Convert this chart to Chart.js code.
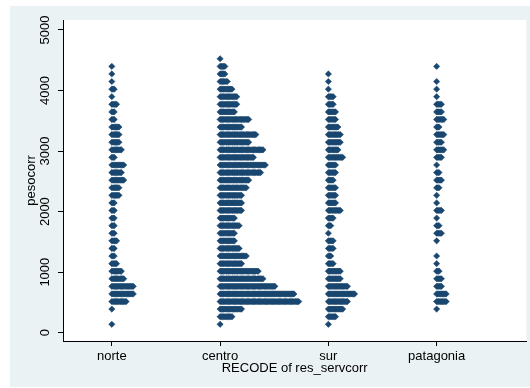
<!DOCTYPE html>
<html>
<head>
<meta charset="utf-8">
<title>pesocorr by RECODE of res_servcorr</title>
<script src="https://cdn.jsdelivr.net/npm/chart.js@4.4.1/dist/chart.umd.min.js"></script>
<style>
  html, body { margin: 0; padding: 0; background: #ffffff; }
  #wrap { width: 530px; height: 388px; }
</style>
</head>
<body>
<div id="wrap"><canvas id="dotplot" width="530" height="388"></canvas></div>
<script>
// Categories on the x axis
const categories = ['norte', 'centro', 'sur', 'patagonia'];

// y value of each bin (bottom to top)
const binMid = [139, 264, 390, 515, 640, 766, 891, 1016, 1141, 1267, 1392, 1517,
  1643, 1768, 1893, 2019, 2144, 2269, 2394, 2520, 2645, 2770, 2896, 3021,
  3146, 3272, 3397, 3522, 3647, 3773, 3898, 4023, 4149, 4274, 4399, 4525];

// number of dots in each bin, per category
const norteCounts = [1, 0, 1, 13, 19, 19, 11, 9, 5, 3, 3, 5, 3, 3, 3, 3, 3, 7,
  7, 11, 9, 11, 3, 9, 7, 7, 7, 3, 3, 5, 1, 3, 1, 1, 1, 0];
const centroCounts = [1, 11, 19, 67, 63, 47, 37, 33, 19, 23, 17, 13, 13, 17, 13, 19, 19, 19,
  23, 25, 35, 39, 29, 37, 25, 31, 19, 25, 13, 15, 15, 11, 7, 5, 5, 1];
const surCounts = [1, 7, 13, 17, 23, 17, 11, 11, 5, 3, 5, 5, 1, 3, 5, 11, 7, 7,
  7, 5, 7, 7, 13, 9, 11, 11, 9, 7, 7, 5, 5, 1, 1, 1, 0, 0];
const patagoniaCounts = [0, 0, 1, 9, 9, 5, 5, 3, 1, 1, 0, 1, 5, 3, 1, 5, 1, 1,
  3, 5, 3, 1, 5, 7, 5, 7, 3, 7, 5, 5, 1, 1, 1, 0, 1, 0];

// axis ticks
const yTicks = [0, 1000, 2000, 3000, 4000, 5000];
const xTicks = [1, 2, 3, 4];

const navy = '#1a476f';
const dotStep = 0.011; // horizontal offset between stacked dots, in x units

function buildPoints(counts, pos) {
  const pts = [];
  counts.forEach((n, i) => {
    for (let k = 0; k < n; k++) {
      pts.push({ x: pos + k * dotStep, y: binMid[i] });
    }
  });
  return pts;
}

const allCounts = [norteCounts, centroCounts, surCounts, patagoniaCounts];
const datasets = allCounts.map((counts, idx) => ({
  label: categories[idx],
  data: buildPoints(counts, idx + 1),
  pointStyle: 'rectRot',
  pointRadius: 3.1,
  pointHoverRadius: 3.1,
  backgroundColor: navy,
  borderColor: navy,
  borderWidth: 0.6,
  showLine: false
}));

// grey graph region with a white plot region
const backdrop = {
  id: 'backdrop',
  beforeDraw(chart) {
    const { ctx, chartArea } = chart;
    ctx.save();
    ctx.fillStyle = '#ffffff';
    ctx.fillRect(0, 0, chart.width, chart.height);
    ctx.fillStyle = '#eaf2f3';
    ctx.fillRect(10, 6, chart.width - 10, chart.height - 7);
    ctx.fillStyle = '#ffffff';
    ctx.fillRect(chartArea.left, chartArea.top,
      chartArea.right - chartArea.left, chartArea.bottom - chartArea.top);
    ctx.restore();
  }
};

const font = { family: '"Liberation Sans", Arial, sans-serif', size: 13 };

new Chart(document.getElementById('dotplot').getContext('2d'), {
  type: 'scatter',
  data: { datasets: datasets },
  options: {
    responsive: false,
    animation: false,
    layout: { padding: { left: 0, right: 2, top: 20, bottom: 0 } },
    plugins: {
      legend: { display: false },
      tooltip: { enabled: false }
    },
    scales: {
      x: {
        type: 'linear',
        min: 0.549,
        max: 4.828,
        afterBuildTicks: (scale) => { scale.ticks = xTicks.map(v => ({ value: v })); },
        afterFit: (scale) => { scale.height = 47; },
        grid: { display: true, drawOnChartArea: false, drawTicks: true, tickLength: 5, color: '#000' },
        border: { display: true, color: '#000', width: 1 },
        ticks: {
          color: '#000',
          font: font,
          padding: 3,
          maxRotation: 0,
          autoSkip: false,
          callback: (v) => categories[v - 1]
        },
        title: {
          display: true,
          text: 'RECODE of res_servcorr',
          color: '#000',
          font: font,
          padding: { top: 0, bottom: 12 }
        }
      },
      y: {
        min: -137,
        max: 5165,
        afterBuildTicks: (scale) => { scale.ticks = yTicks.map(v => ({ value: v })); },
        afterFit: (scale) => { scale.width = 63; },
        grid: { display: true, drawOnChartArea: false, drawTicks: true, tickLength: 5, color: '#000' },
        border: { display: true, color: '#000', width: 1 },
        ticks: {
          color: '#000',
          font: font,
          padding: -2,
          minRotation: 90,
          maxRotation: 90,
          crossAlign: 'center',
          autoSkip: false,
          callback: (v) => String(v)
        },
        title: {
          display: true,
          text: 'pesocorr',
          color: '#000',
          font: font,
          padding: { top: 24, bottom: 0 }
        }
      }
    }
  },
  plugins: [backdrop]
});
</script>
</body>
</html>
